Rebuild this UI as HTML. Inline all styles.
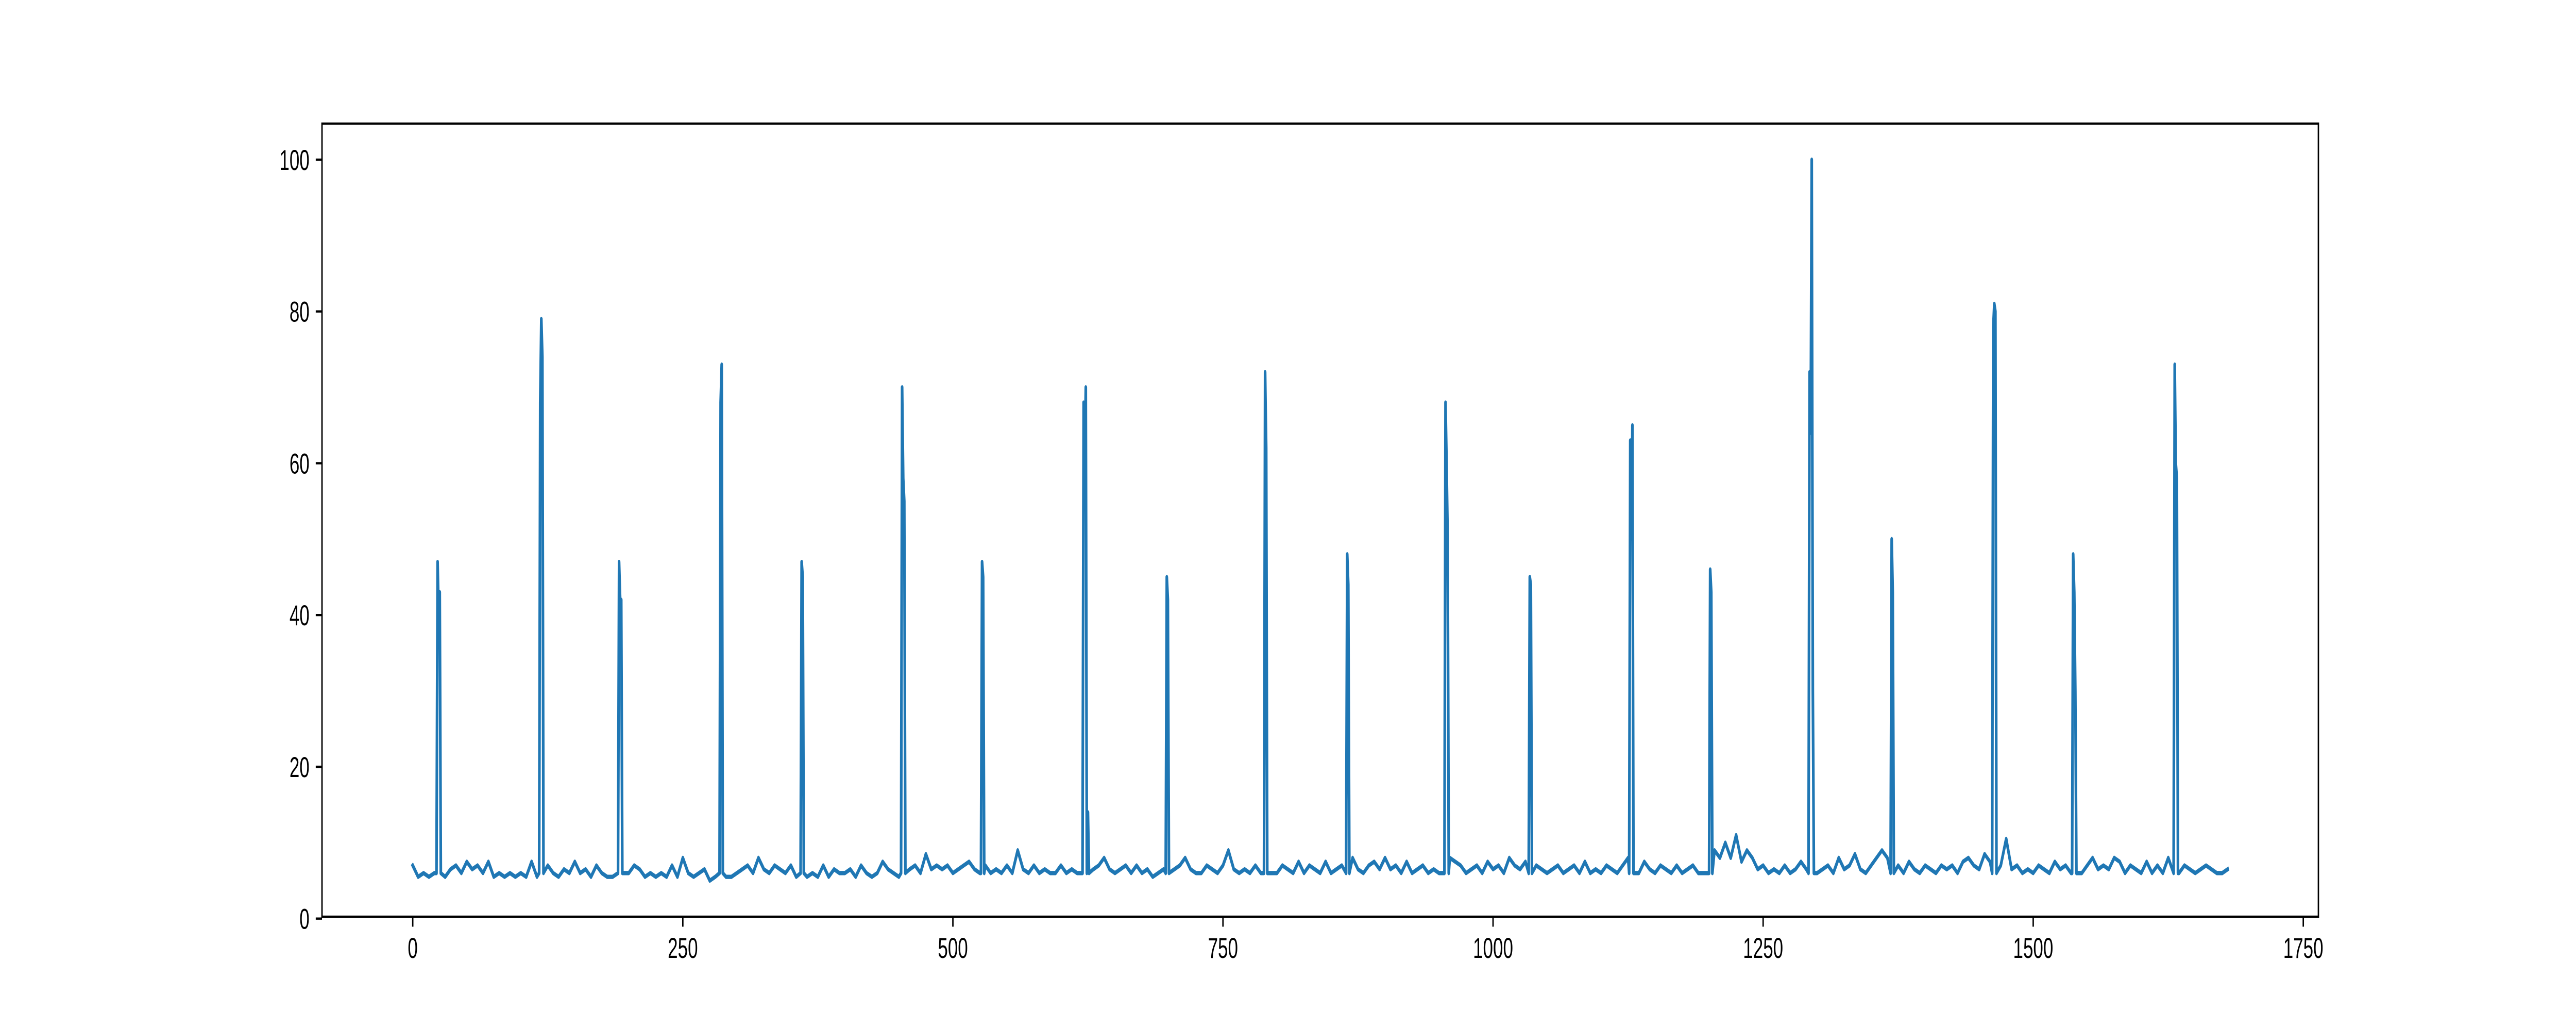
<!DOCTYPE html>
<html><head><meta charset="utf-8"><style>
html,body{margin:0;padding:0;background:#fff;width:100%;height:100%;overflow:hidden;}
svg{display:block;width:100vw;height:100vh;}
svg text{font-family:"Liberation Sans","DejaVu Sans",sans-serif;font-size:56px;fill:#000;}
</style></head><body>
<svg id="chart" viewBox="0 0 8000 2000" preserveAspectRatio="none" xmlns="http://www.w3.org/2000/svg">
<rect x="0" y="0" width="8000" height="2000" fill="#fff"/>
<g id="plot"></g>
<g id="axes"></g>
</svg>
<script>
const xTicks = [0, 250, 500, 750, 1000, 1250, 1500, 1750];
const yTicks = [0, 20, 40, 60, 80, 100];
const baseStep = 5;
const baseline = [
7,5.5,6,5.5,6,6,5.5,6.5,7,6,7.5,6.5,7,6,7.5,5.5,6,5.5,6,5.5,
6,5.5,7.5,5.5,6,7,6,5.5,6.5,6,7.5,6,6.5,5.5,7,6,5.5,5.5,7.5,6,
6,7,6.5,5.5,6,5.5,6,5.5,7,5.5,8,6,5.5,6,6.5,5,5.5,6,5.5,5.5,
6,6.5,7,6,8,6.5,6,7,6.5,6,7,5.5,6,5.5,6,5.5,7,5.5,6.5,6,
6,6.5,5.5,7,6,5.5,6,7.5,6.5,6,5.5,6,6.5,7,6,8.5,6.5,7,6.5,7,
6,6.5,7,7.5,6.5,6,7,6,6.5,6,7,6,9,6.5,6,7,6,6.5,6,6,
7,6,6.5,6,7.5,6,6.5,7,8,6.5,6,6.5,7,6,7,6,6.5,5.5,6,6.5,
6,6.5,7,8,6.5,6,6,7,6.5,6,7,9,6.5,6,6.5,6,7,6,6.5,6,
6,7,6.5,6,7.5,6,7,6.5,6,7.5,6,6.5,7,6,8,6.5,6,7,7.5,6.5,
8,6.5,7,6,7.5,6,6.5,7,6,6.5,6,7,8,7.5,7,6,6.5,7,6,7.5,
6.5,7,6,8,7,6.5,7.5,6,7,6.5,6,6.5,7,6,6.5,7,6,7.5,6,6.5,
6,7,6.5,6,7,8,7,6,7.5,6.5,6,7,6.5,6,7,6,6.5,7,6,6,
7.5,9,8,10,8,11,7.5,9,8,6.5,7,6,6.5,6,7,6,6.5,7.5,6.5,10,
6,6.5,7,6,8,6.5,7,8.5,6.5,6,7,8,9,8,6.5,7,6,7.5,6.5,6,
7,6.5,6,7,6.5,7,6,7.5,8,7,6.5,8.5,7.5,8,7,10.5,6.5,7,6,6.5,
6,7,6.5,6,7.5,6.5,7,6,6.5,6,7,8,6.5,7,6.5,8,7.5,6,7,6.5,
6,7.5,6,7,6,8,7.5,6,7,6.5,6,6.5,7,6.5,6,6,6.5
];
const spikeStart = [22,117,190,284,359,452,526,620,697,788,864,955,1033,1126,1200,1292,1368,1462,1536,1630];
const spikeValues = [
[6,47,40,43,6],[6,68,79,74,6],[6,47,42,42,6],[6,68,73,6],[6,47,45,6],
[6,70,58,55,6],[6,47,45,6],[6,68,60,70,6,14,6],[6,45,42,6],[6,72,62,6],
[6,48,44,6],[6,68,60,50,6],[6,45,44,6],[6,63,50,65,6],[6,46,43,6],
[6,72,64,100,30,6],[6,50,43,6],[6,78,81,80,6],[6,48,43,30,6],[6,73,60,58,6]
];

const L=1000,R=7200,T=240,B=1780;
const xMin=-84,xMax=1764,yMin=0.25,yMax=104.75;
function sx(v){return L+(v-xMin)/(xMax-xMin)*(R-L);}
function sy(v){return B-(v-yMin)/(yMax-yMin)*(B-T);}
const NS="http://www.w3.org/2000/svg";

let pts=[];
baseline.forEach((v,i)=>{
  const x=i*baseStep;
  let inside=false;
  spikeStart.forEach((s,k)=>{ if(x>=s && x<=s+spikeValues[k].length-1) inside=true; });
  if(!inside) pts.push([x,v]);
});
spikeStart.forEach((s,k)=>{ spikeValues[k].forEach((v,j)=>pts.push([s+j,v])); });
pts.sort((a,b)=>a[0]-b[0]);

const plot=document.getElementById('plot');
const line=document.createElementNS(NS,'polyline');
line.setAttribute('points',pts.map(p=>sx(p[0]).toFixed(1)+','+sy(p[1]).toFixed(1)).join(' '));
line.setAttribute('fill','none');
line.setAttribute('stroke','#1f77b4');
line.setAttribute('stroke-width','8.3');
line.setAttribute('stroke-linejoin','round');
line.setAttribute('stroke-linecap','square');


plot.appendChild(line);

const axes=document.getElementById('axes');
xTicks.forEach(t=>{
  const x=sx(t);
  const tk=document.createElementNS(NS,'line');
  tk.setAttribute('x1',x);tk.setAttribute('x2',x);tk.setAttribute('y1',B);tk.setAttribute('y2',B+19.4);
  tk.setAttribute('stroke','#000');tk.setAttribute('stroke-width','4.4');
  
  
  axes.appendChild(tk);
  const tx=document.createElementNS(NS,'text');
  tx.setAttribute('x',x);tx.setAttribute('y',B+19.4+19.4+41);
  tx.setAttribute('text-anchor','middle');
  tx.textContent=t;
  
  
  axes.appendChild(tx);
});
yTicks.forEach(t=>{
  const y=sy(t);
  const tk=document.createElementNS(NS,'line');
  tk.setAttribute('x1',L-19.4);tk.setAttribute('x2',L);tk.setAttribute('y1',y);tk.setAttribute('y2',y);
  tk.setAttribute('stroke','#000');tk.setAttribute('stroke-width','4.4');
  
  
  axes.appendChild(tk);
  const tx=document.createElementNS(NS,'text');
  tx.setAttribute('x',L-19.4-19.4);tx.setAttribute('y',y+20);
  tx.setAttribute('text-anchor','end');
  tx.textContent=t;
  
  
  axes.appendChild(tx);
});
const frame=document.createElementNS(NS,'rect');
frame.setAttribute('x',L);frame.setAttribute('y',T);frame.setAttribute('width',R-L);frame.setAttribute('height',B-T);
frame.setAttribute('fill','none');frame.setAttribute('stroke','#000');frame.setAttribute('stroke-width','4.4');


axes.appendChild(frame);
</script>
</body></html>
